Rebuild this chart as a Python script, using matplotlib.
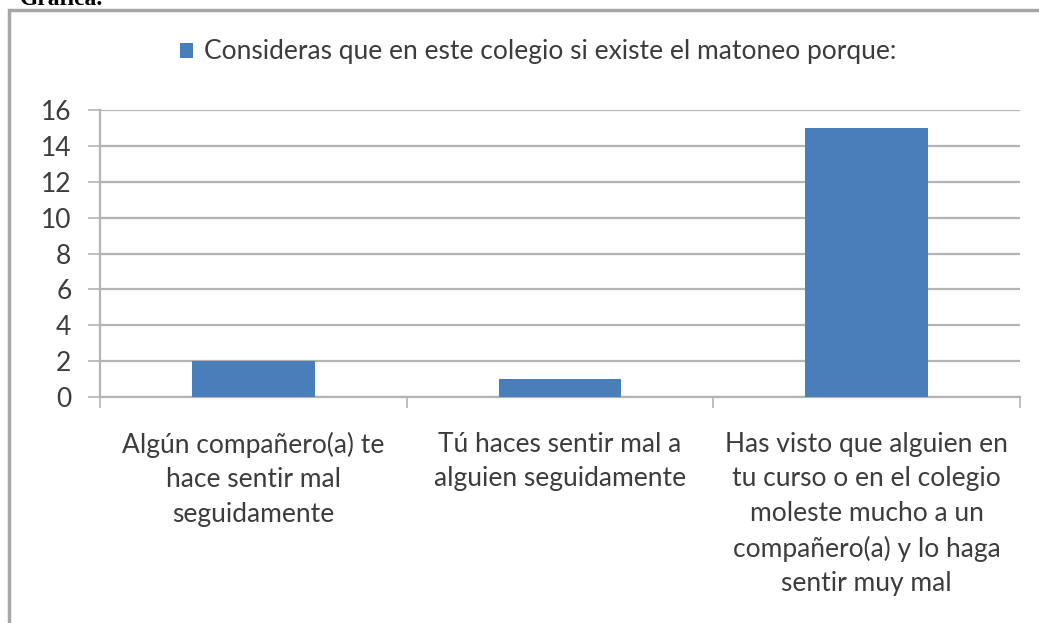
import matplotlib
matplotlib.use("Agg")
import matplotlib.pyplot as plt
from matplotlib.patches import Rectangle
from matplotlib.ticker import FixedLocator, NullFormatter

categories = [
    "Algún compañero(a) te\nhace sentir mal\nseguidamente",
    "Tú haces sentir mal a\nalguien seguidamente",
    "Has visto que alguien en\ntu curso o en el colegio\nmoleste mucho a un\ncompañero(a) y lo haga\nsentir muy mal",
]
values = [2, 1, 15]
series_name = "Consideras que en este colegio si existe el matoneo porque:"
y_ticks = [0, 2, 4, 6, 8, 10, 12, 14, 16]

W, H = 1039, 623
fig = plt.figure(figsize=(W / 100, H / 100), dpi=100)
fig.patch.set_facecolor("white")

font = ["Lato", "DejaVu Sans"]
text_color = "#3c3c3c"
grid_color = "#b4b4b4"
bar_color = "#4a7ebb"

# heading of the document, partly cut by the top edge
fig.text(20 / W, 1 - 5 / H, "Gráfica.", family="Liberation Serif", fontsize=17,
         fontweight="bold", color="black", ha="left", va="baseline")

# chart frame
frame = Rectangle((9 / W, -0.05), 1.1, 1 - 10 / H + 0.05, transform=fig.transFigure,
                  fill=False, edgecolor="#a6a6a6", linewidth=2.5)
fig.patches.append(frame)

ax = fig.add_axes([100 / W, 1 - 397 / H, 920 / W, 287 / H])
x = list(range(len(categories)))
bars = ax.bar(x, values, width=0.4, color=bar_color, label=series_name, zorder=3)

ax.set_xlim(-0.5, len(categories) - 0.5)
ax.set_ylim(0, 16)
ax.set_yticks(y_ticks)
ax.set_yticklabels([str(v) for v in y_ticks], family=font, fontsize=19, color=text_color)
ax.yaxis.grid(True, color=grid_color, linewidth=1.6, zorder=0)
ax.tick_params(axis="y", direction="out", length=8.6, width=1.2, color=grid_color, pad=12)

ax.set_xticks(x)
ax.set_xticklabels(categories, family=font, fontsize=19, color=text_color,
                   linespacing=1.47)
ax.tick_params(axis="x", which="major", length=0, pad=25)
ax.xaxis.set_minor_locator(FixedLocator([i - 0.5 for i in range(len(categories) + 1)]))
ax.xaxis.set_minor_formatter(NullFormatter())
ax.tick_params(axis="x", which="minor", direction="out", length=8, width=1.2, color=grid_color)

for side in ("top", "right"):
    ax.spines[side].set_visible(False)
for side in ("left", "bottom"):
    ax.spines[side].set_color(grid_color)
    ax.spines[side].set_linewidth(1.6)

leg = fig.legend(handles=[bars], labels=[series_name], loc="center",
                 bbox_to_anchor=(538 / W, 1 - 52 / H), frameon=False,
                 prop={"family": font, "size": 19}, handlelength=0.5, handleheight=0.5,
                 handletextpad=0.4)
for t in leg.get_texts():
    t.set_color(text_color)

fig.savefig("out.png", dpi=100)
